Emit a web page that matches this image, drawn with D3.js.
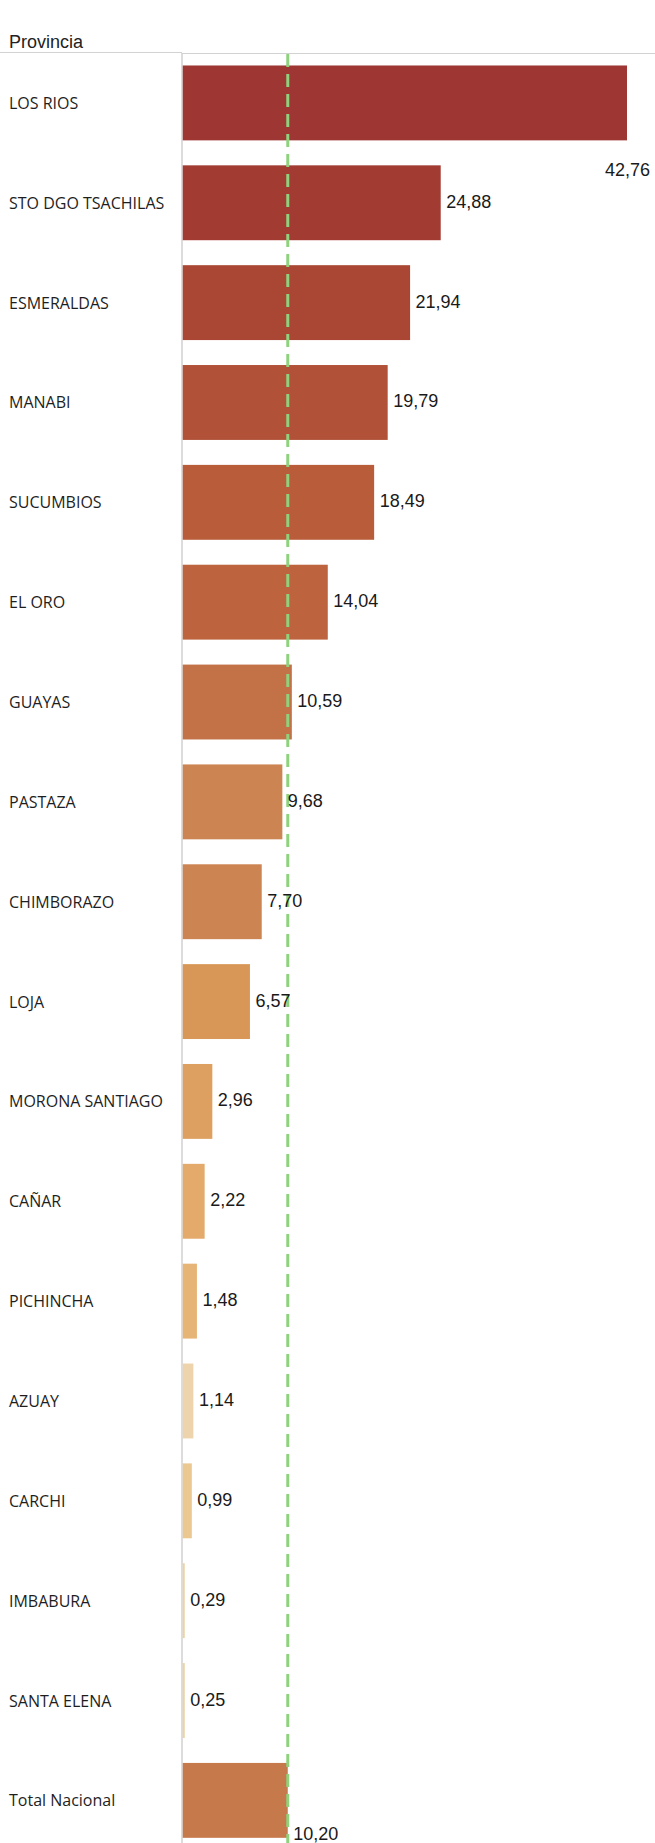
<!DOCTYPE html>
<html>
<head>
<meta charset="utf-8">
<script src="https://cdn.jsdelivr.net/npm/d3@7"></script>
<style>
  html, body { margin: 0; padding: 0; background: #ffffff; }
  svg { display: block; }
</style>
</head>
<body>
<div id="chart"></div>
<script>
// ---- Data ----
const provincias = [
  "LOS RIOS", "STO DGO TSACHILAS", "ESMERALDAS", "MANABI", "SUCUMBIOS",
  "EL ORO", "GUAYAS", "PASTAZA", "CHIMBORAZO", "LOJA", "MORONA SANTIAGO",
  "CAÑAR", "PICHINCHA", "AZUAY", "CARCHI", "IMBABURA", "SANTA ELENA",
  "Total Nacional"
];
const valores = [
  42.76, 24.88, 21.94, 19.79, 18.49, 14.04, 10.59, 9.68, 7.70, 6.57,
  2.96, 2.22, 1.48, 1.14, 0.99, 0.29, 0.25, 10.20
];
const etiquetas = [
  "42,76", "24,88", "21,94", "19,79", "18,49", "14,04", "10,59", "9,68",
  "7,70", "6,57", "2,96", "2,22", "1,48", "1,14", "0,99", "0,29", "0,25",
  "10,20"
];
const colores = [
  "#9e3633", "#a23c33", "#aa4734", "#b15137", "#b95c3a", "#bd643e",
  "#c27246", "#cc8452", "#cc8552", "#d89757", "#dea061", "#e3aa6b",
  "#e6b474", "#eed4ac", "#eac890", "#ebd3a7", "#ecd3a5", "#c67a4b"
];
const referencia = 10.20;
const encabezado = "Provincia";

// ---- Layout ----
const W = 655, H = 1843;
const axisX = 182, headerY = 53;

const svg = d3.select("#chart").append("svg")
  .attr("width", W).attr("height", H);

const x = d3.scaleLinear().domain([0, 42.76]).range([181.5, 627]);
const y = d3.scaleBand().domain(provincias)
  .range([headerY, headerY + 18 * 99.85])
  .paddingInner(0.25).paddingOuter(0.125);
const color = d3.scaleOrdinal().domain(provincias).range(colores);

const data = provincias.map((p, i) => ({ p, v: valores[i], t: etiquetas[i] }));

// header
svg.append("text")
  .attr("x", 9).attr("y", 48)
  .attr("font-family", "'Liberation Sans', Arial, sans-serif")
  .attr("font-size", 18).attr("fill", "#222")
  .text(encabezado);

svg.append("line")
  .attr("x1", 0).attr("x2", axisX).attr("y1", 52.5).attr("y2", 52.5)
  .attr("stroke", "#d2d2d2").attr("stroke-width", 1.2);
svg.append("line")
  .attr("x1", axisX).attr("x2", W).attr("y1", 53.5).attr("y2", 53.5)
  .attr("stroke", "#d2d2d2").attr("stroke-width", 1.2);

// vertical axis line
svg.append("line")
  .attr("x1", axisX).attr("x2", axisX).attr("y1", 53).attr("y2", H)
  .attr("stroke", "#d0d0d0").attr("stroke-width", 1.5);

// bars (start just right of the axis line)
const barX0 = axisX + 0.75;
svg.append("g").selectAll("rect").data(data).join("rect")
  .attr("x", barX0)
  .attr("y", d => y(d.p))
  .attr("width", d => Math.max(2, x(d.v) - barX0))
  .attr("height", y.bandwidth())
  .attr("fill", d => color(d.p));

// category labels
svg.append("g").selectAll("text").data(data).join("text")
  .attr("x", 9)
  .attr("y", d => y(d.p) + y.bandwidth() / 2)
  .attr("dominant-baseline", "central")
  .attr("font-family", "'Open Sans', sans-serif")
  .attr("font-size", 16)
  .attr("fill", "#1e1e1e")
  .text(d => d.p);

// reference line
svg.append("line")
  .attr("x1", x(referencia)).attr("x2", x(referencia))
  .attr("y1", 54).attr("y2", H)
  .attr("stroke", "#8ed27e").attr("stroke-width", 3)
  .attr("stroke-dasharray", "13,7");

// value labels
const last = provincias.length - 1;
svg.append("g").selectAll("text").data(data).join("text")
  .attr("x", (d, i) => i === 0 ? 650 : Math.max(x(d.v), barX0 + 2) + 5.5)
  .attr("y", (d, i) => {
    const c = y(d.p) + y.bandwidth() / 2;
    if (i === 0) return y(d.p) + y.bandwidth() + 30;
    if (i === last) return y(d.p) + y.bandwidth() - 4;
    return c - 1;
  })
  .attr("text-anchor", (d, i) => i === 0 ? "end" : "start")
  .attr("dominant-baseline", "central")
  .attr("font-family", "'Liberation Sans', Arial, sans-serif")
  .attr("font-size", 18)
  .attr("fill", "#1a1a1a")
  .text(d => d.t);
</script>
</body>
</html>
